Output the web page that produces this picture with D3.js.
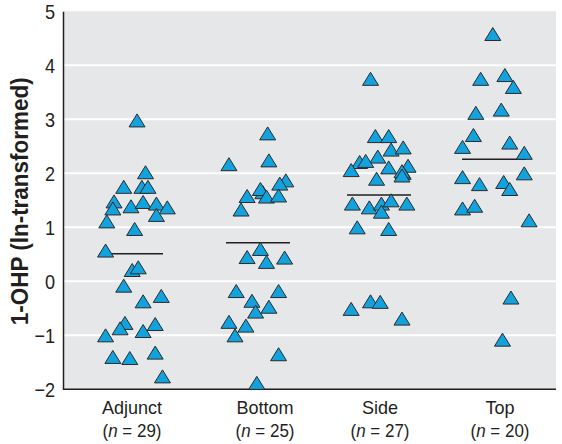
<!DOCTYPE html>
<html><head><meta charset="utf-8">
<script src="https://cdn.jsdelivr.net/npm/d3@7"></script>
<style>
html,body{margin:0;padding:0;background:#fff;}
svg text{font-family:"Liberation Sans",Arial,sans-serif;fill:#231f20;}
</style></head>
<body>
<svg id="chart" width="562" height="444"></svg>
<script>
// ---- data ----
const categories = ["Adjunct", "Bottom", "Side", "Top"];
const counts = [29, 25, 27, 20];
const yTicks = [-2, -1, 0, 1, 2, 3, 4, 5];
const yTickLabels = ["\u22122", "\u22121", "0", "1", "2", "3", "4", "5"];
const centralValues = [0.51, 0.715, 1.60, 2.26];

const adjunctValues = [2.97, 2.01, 1.74, 1.74, 1.74, 1.47, 1.34, 1.38, 1.46, 1.43, 1.36, 1.22, 1.10, 0.96,
  0.56, 0.20, 0.25, -0.09, -0.38, -0.28, -0.78, -0.88, -0.80, -0.93, -1.01, -1.41, -1.43, -1.33, -1.77];
const adjunctJitter = [0.05, 0.12, -0.06, 0.09, 0.14, -0.14, -0.15, 0.00, 0.10, 0.21, 0.30, 0.21, -0.20, 0.03,
  -0.21, 0.01, 0.06, -0.06, 0.10, 0.25, -0.05, -0.09, 0.20, 0.10, -0.21, -0.15, -0.01, 0.20, 0.26];

const bottomValues = [2.73, 2.16, 2.23, 1.86, 1.80, 1.64, 1.70, 1.56, 1.57, 1.58, 1.32,
  0.59, 0.44, 0.35, 0.43, -0.19, -0.19, -0.37, -0.48, -0.57, -0.76, -0.83, -1.01, -1.36, -1.89];
const bottomJitter = [0.08, -0.24, 0.09, 0.23, 0.18, 0.04, 0.02, 0.07, -0.09, 0.17, -0.14,
  0.02, -0.09, 0.07, 0.22, -0.18, 0.17, -0.05, 0.09, -0.02, -0.24, -0.10, -0.19, 0.17, -0.01];

const sideValues = [3.74, 2.68, 2.68, 2.43, 2.47, 2.30, 2.20, 2.22, 2.05, 2.10, 2.13, 2.00, 2.03, 1.95, 1.89,
  1.43, 1.36, 1.43, 1.49, 1.43, 1.28, 0.99, 0.96, -0.52, -0.38, -0.39, -0.70];
const sideJitter = [-0.07, -0.03, 0.08, 0.10, 0.20, -0.01, -0.16, -0.11, -0.23, 0.08, 0.24, 0.20, 0.19, 0.19, -0.02,
  -0.22, -0.08, 0.02, 0.10, 0.23, 0.02, -0.18, 0.08, -0.23, -0.07, 0.01, 0.19];

const topValues = [4.57, 3.74, 3.81, 3.59, 3.11, 3.17, 2.70, 2.48, 2.56, 2.37,
  1.92, 1.99, 1.79, 1.83, 1.70, 1.34, 1.39, 1.12, -0.31, -1.09];
const topJitter = [-0.01, -0.11, 0.09, 0.16, -0.15, 0.06, -0.17, -0.26, 0.13, 0.25,
  -0.26, 0.25, -0.12, 0.08, 0.13, -0.26, -0.16, 0.29, 0.14, 0.07];

const groupValues = [adjunctValues, bottomValues, sideValues, topValues];
const groupJitter = [adjunctJitter, bottomJitter, sideJitter, topJitter];

// ---- layout ----
const svg = d3.select("#chart");
const plot = {left: 63, right: 556, top: 11.3, bottom: 389.3};

const y = d3.scaleLinear().domain([-2, 5]).range([plot.bottom, plot.top]);
const x = d3.scaleLinear().domain([0, 1, 2, 3]).range([131, 258, 379, 494]);
const jit = d3.scaleLinear().domain([-1, 1]).range([-121, 121]);

function squeeze(sel, k) {
  sel.each(function() {
    const w = this.getComputedTextLength();
    d3.select(this).attr("textLength", w * k).attr("lengthAdjust", "spacingAndGlyphs");
  });
}

// background
svg.append("rect")
  .attr("x", plot.left).attr("y", plot.top)
  .attr("width", plot.right - plot.left).attr("height", plot.bottom - plot.top)
  .attr("fill", "#e6e7e8");

// gridlines
svg.append("g").selectAll("line")
  .data(yTicks.filter(t => t > -2 && t < 5))
  .join("line")
  .attr("x1", plot.left).attr("x2", plot.right)
  .attr("y1", d => y(d)).attr("y2", d => y(d))
  .attr("stroke", "#ffffff").attr("stroke-width", 2);

// y axis
const yAxis = d3.axisLeft(y).tickValues(yTicks)
  .tickFormat((d, i) => yTickLabels[i]).tickSize(0).tickPadding(8);
const gy = svg.append("g").attr("transform", `translate(${plot.left},0)`).call(yAxis);
gy.select(".domain").attr("stroke", "#231f20").attr("stroke-width", 1.5);
gy.selectAll("text").attr("font-size", 21).attr("fill", "#231f20")
  .style("font-family", "'Liberation Sans',Arial,sans-serif");
squeeze(gy.selectAll("text"), 0.86);

// bottom axis line
svg.append("line")
  .attr("x1", plot.left).attr("x2", plot.right)
  .attr("y1", plot.bottom).attr("y2", plot.bottom)
  .attr("stroke", "#231f20").attr("stroke-width", 1.5);

// central value lines
svg.append("g").selectAll("line")
  .data(centralValues)
  .join("line")
  .attr("x1", (d, i) => x(i) - 32).attr("x2", (d, i) => x(i) + 32)
  .attr("y1", d => y(d)).attr("y2", d => y(d))
  .attr("stroke", "#231f20").attr("stroke-width", 1.5);

// points
const pts = [];
groupValues.forEach((vals, gi) => vals.forEach((v, k) => pts.push({g: gi, v, j: groupJitter[gi][k]})));
const tri = "M0,-7 L8,6 L-8,6 Z";
svg.append("g").selectAll("path")
  .data(pts)
  .join("path")
  .attr("d", tri)
  .attr("transform", d => `translate(${x(d.g) + jit(d.j)},${y(d.v)})`)
  .attr("fill", "#12a2de")
  .attr("stroke", "#2b2b2b")
  .attr("stroke-width", 1);

// category labels
const nudge = [1, 7, 1, 6];
const gx = svg.append("g");
categories.forEach((c, i) => {
  const cx = x(i) + nudge[i];
  const t1 = gx.append("text").attr("x", cx).attr("y", 414).attr("text-anchor", "middle")
    .attr("font-size", 19).text(c);
  squeeze(t1, 0.95);
  const t2 = gx.append("text").attr("x", cx).attr("y", 437)
    .attr("text-anchor", "middle").attr("font-size", 19)
    .attr("textLength", 59).attr("lengthAdjust", "spacingAndGlyphs");
  t2.append("tspan").text("(");
  t2.append("tspan").attr("font-style", "italic").text("n");
  t2.append("tspan").text(" = " + counts[i] + ")");
});

// y title
svg.append("text")
  .attr("transform", `translate(28,${(plot.top + plot.bottom) / 2 + 1}) rotate(-90)`)
  .attr("text-anchor", "middle")
  .attr("font-size", 24).attr("font-weight", "bold")
  .attr("textLength", 248).attr("lengthAdjust", "spacingAndGlyphs")
  .text("1-OHP (ln-transformed)");
</script>
</body></html>
